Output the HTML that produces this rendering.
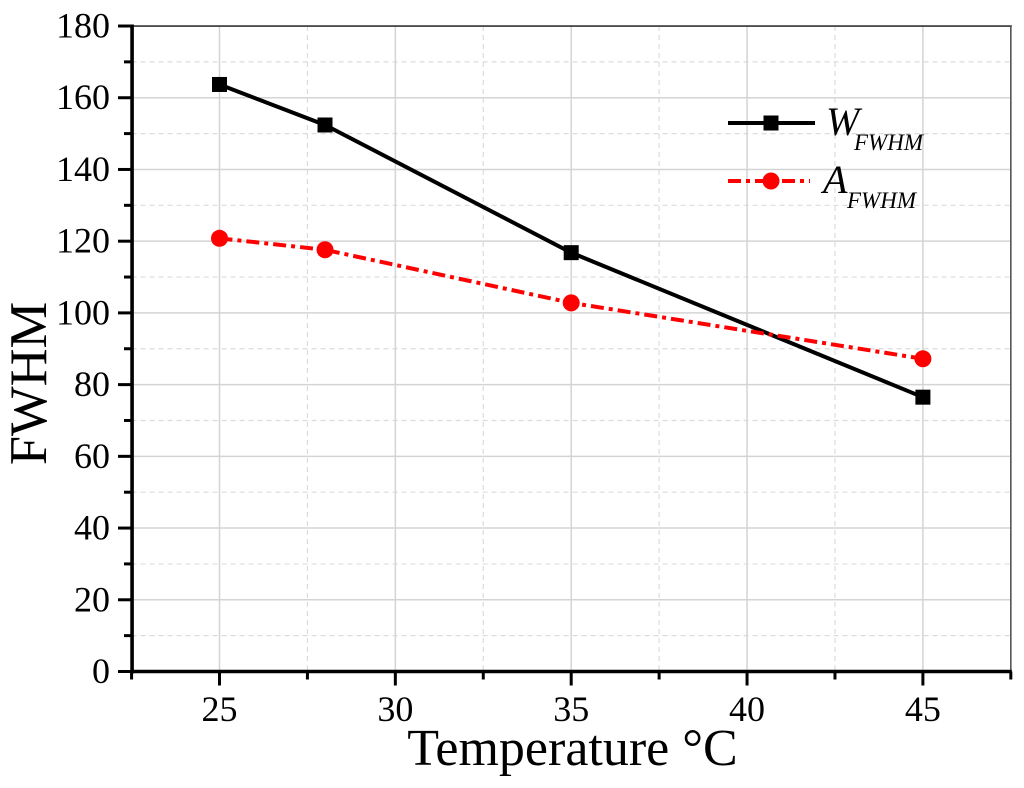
<!DOCTYPE html>
<html>
<head>
<meta charset="utf-8">
<style>
html,body{margin:0;padding:0;background:#fff;width:1024px;height:788px;overflow:hidden}
svg{display:block}
text{font-family:"Liberation Serif",serif;fill:#000}
</style>
</head>
<body>
<svg id="chart" width="1024" height="788" viewBox="0 0 1024 788" xmlns="http://www.w3.org/2000/svg"></svg>
<script>
const temperatures = [25, 28, 35, 45];
const wFwhm = [163.7, 152.4, 116.8, 76.5];
const aFwhm = [120.8, 117.6, 102.8, 87.2];
const xTickLabels = [25, 30, 35, 40, 45];
const yTickLabels = [0, 20, 40, 60, 80, 100, 120, 140, 160, 180];
const xMinorTicks = [22.5, 27.5, 32.5, 37.5, 42.5, 47.5];
const yMinorTicks = [10, 30, 50, 70, 90, 110, 130, 150, 170];

const svg = document.getElementById('chart');
const NS = 'http://www.w3.org/2000/svg';
const sx = v => 219.5 + (v - 25) * 35.17;
const sy = v => 671.5 - v * 3.586;
const left = sx(22.5), right = sx(47.5), bottom = sy(0), top_ = sy(180);

function mk(tag, attrs, text) {
  const el = document.createElementNS(NS, tag);
  for (const k in attrs) el.setAttribute(k, attrs[k]);
  if (text !== undefined) el.textContent = text;
  svg.appendChild(el);
  return el;
}
function line(name, x1, y1, x2, y2, stroke, w, dash) {
  const el = mk('line', {x1, y1, x2, y2, stroke, 'stroke-width': w});
  if (dash) el.setAttribute('stroke-dasharray', dash);
  
  
  return el;
}
function label(name, x, y, size, anchor, str) {
  const el = mk('text', {x, y, 'font-size': size, 'text-anchor': anchor}, str);
  
  
  return el;
}

xMinorTicks.forEach(v => {
  if (v > 22.5 && v < 47.5) line('x-minor-gridline', sx(v), top_, sx(v), bottom, '#dcdcdc', 1.2, '5 4');
});
yMinorTicks.forEach(v => line('y-minor-gridline', left, sy(v), right, sy(v), '#dcdcdc', 1.2, '5 4'));
xTickLabels.forEach(v => line('x-major-gridline', sx(v), top_, sx(v), bottom, '#d4d4d4', 1.5));
yTickLabels.forEach(v => {
  if (v > 0 && v < 180) line('y-major-gridline', left, sy(v), right, sy(v), '#d4d4d4', 1.5);
});

line('top-axis', left, top_, right + 1, top_, '#333', 1.6);
line('right-axis', right, top_, right, bottom, '#555', 1.6);

xTickLabels.forEach(v => {
  line('x-major-tick', sx(v), bottom, sx(v), bottom + 14, '#000', 3);
  label('x-tick-label', sx(v), 721, 36, 'middle', v);
});
xMinorTicks.forEach(v => line('x-minor-tick', sx(v), bottom, sx(v), bottom + 8, '#000', 3));
yTickLabels.forEach(v => {
  line('y-major-tick', 118, sy(v), left, sy(v), '#000', 3);
  label('y-tick-label', 110, sy(v) + 11.5, 36, 'end', v);
});
yMinorTicks.forEach(v => line('y-minor-tick', 124, sy(v), left, sy(v), '#000', 3));

line('left-axis', left + 0.5, top_ - 1.5, left + 0.5, bottom + 2, '#000', 3.6);
line('bottom-axis', left, bottom, right + 1, bottom, '#000', 3.4);

function pts(values) {
  return temperatures.map((t, i) => sx(t) + ',' + sy(values[i])).join(' ');
}
const wLine = mk('polyline', {points: pts(wFwhm), fill: 'none', stroke: '#000', 'stroke-width': 4});


const aLine = mk('polyline', {points: pts(aFwhm), fill: 'none', stroke: '#f00', 'stroke-width': 4, 'stroke-dasharray': '13 5 4 5'});



temperatures.forEach((t, i) => {
  const s = mk('rect', {x: sx(t) - 7.5, y: sy(wFwhm[i]) - 7.5, width: 15, height: 15, fill: '#000'});
  
  
});
temperatures.forEach((t, i) => {
  const c = mk('circle', {cx: sx(t), cy: sy(aFwhm[i]), r: 8.5, fill: '#f00'});
  
  
});

line('legend-w-line', 728, 123, 815, 123, '#000', 4);
const ls = mk('rect', {x: 763.5, y: 115.5, width: 15, height: 15, fill: '#000'});


line('legend-a-line', 728, 181, 810, 181, '#f00', 4, '13 5 4 5');
const lc = mk('circle', {cx: 771, cy: 181, r: 8.5, fill: '#f00'});



label('legend-w-symbol', 826, 135, 40, 'start', 'W').setAttribute('font-style', 'italic');
label('legend-w-subscript', 854, 150, 23, 'start', 'FWHM').setAttribute('font-style', 'italic');
label('legend-a-symbol', 823, 193, 40, 'start', 'A').setAttribute('font-style', 'italic');
label('legend-a-subscript', 847, 208, 23, 'start', 'FWHM').setAttribute('font-style', 'italic');

label('x-axis-title', 572.5, 765, 52, 'middle', 'Temperature °C');
const yTitle = label('y-axis-title', 0, 0, 52.5, 'middle', 'FWHM');
yTitle.setAttribute('transform', 'translate(46,383.5) rotate(-90)');
</script>
</body>
</html>
